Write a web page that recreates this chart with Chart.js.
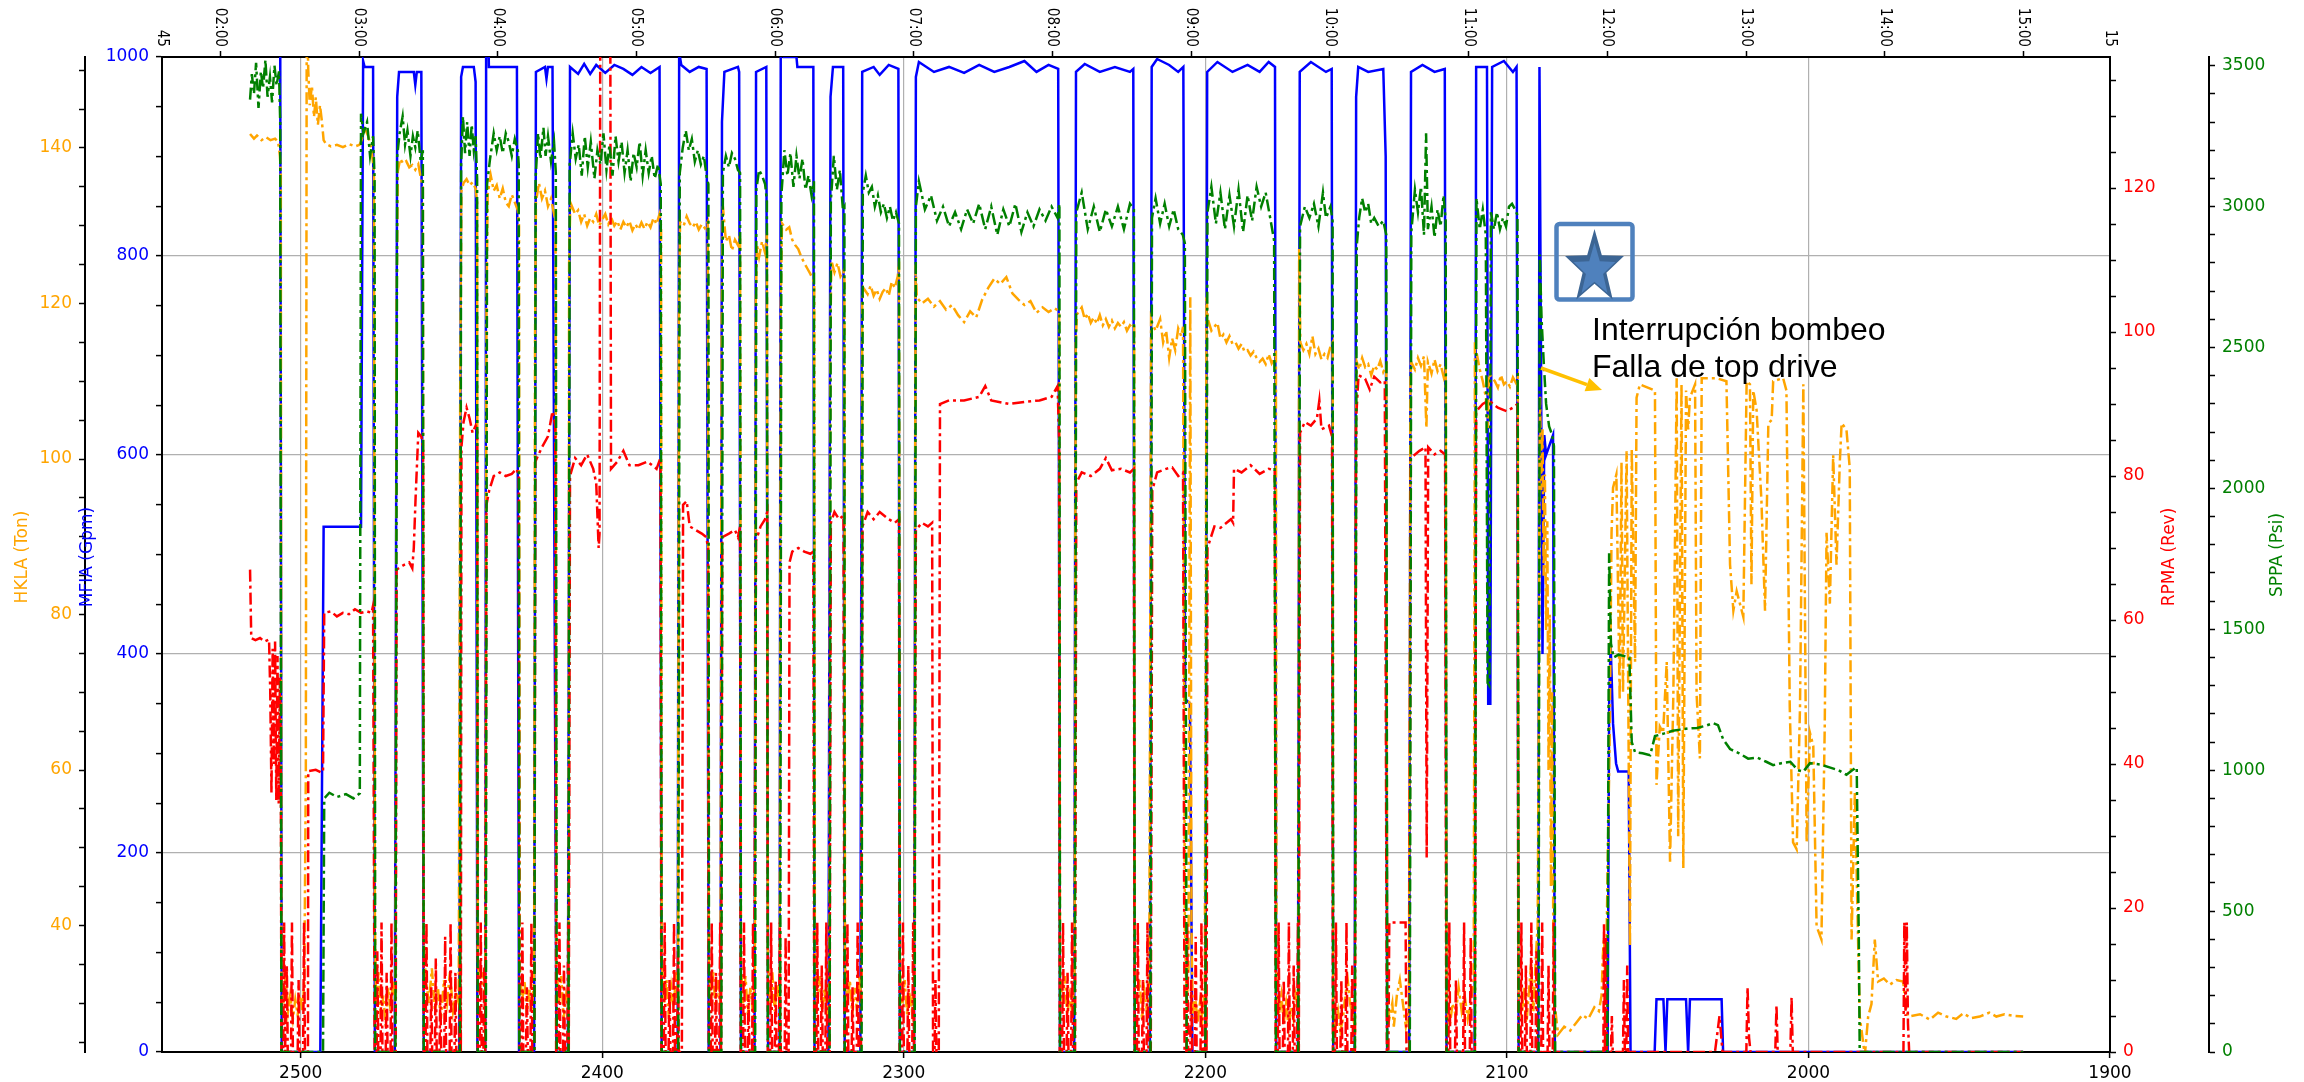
<!DOCTYPE html>
<html>
<head>
<meta charset="utf-8">
<script src="https://cdn.jsdelivr.net/npm/chart.js@4.4.1/dist/chart.umd.min.js"></script>
<style>
  html, body { margin: 0; padding: 0; background: #fff; }
  canvas { display: block; }
</style>
</head>
<body>
<canvas id="drillChart" width="2304" height="1082"></canvas>
<script>
// axis ranges and tick labels
const depthMin = 1900, depthMax = 2546;
const timeMin = 1.579, timeMax = 15.624;
const timeTickHours = [2, 3, 4, 5, 6, 7, 8, 9, 10, 11, 12, 13, 14, 15];
const timeTickLabels = ['02:00', '03:00', '04:00', '05:00', '06:00', '07:00', '08:00',
                        '09:00', '10:00', '11:00', '12:00', '13:00', '14:00', '15:00'];
const timeEdgeLabels = ['45', '15'];

// MFIA (Gpm) : [depth, value]
const mfia = [
  [2516.8,1040],[2506.8,1040],[2506.3,0],
  [2493.5,0],[2492.4,528],[2480.0,528],[2479.3,996],[2478.8,990],[2476.0,990],[2475.4,0],
  [2468.8,0],[2468.0,960],[2467.4,985],[2462.5,985],[2462.0,972],[2461.5,985],[2460.0,985],[2459.2,0],
  [2447.4,0],[2446.8,980],[2446.2,990],[2442.6,990],[2442.0,975],[2441.4,0],
  [2438.8,0],[2438.5,1050],[2437.9,1050],[2437.6,990],[2428.3,990],[2427.6,0],
  [2422.6,0],[2422.0,985],[2419.0,990],[2418.5,978],[2418.0,990],[2416.5,990],[2415.2,0],
  [2411.4,0],[2410.7,990],[2408,983],[2406,993],[2404,983],[2402,992],[2399,984],[2396,992],[2393,988],
  [2390,982],[2387,990],[2384,984],[2381,990],[2380.3,0],
  [2375.0,0],[2374.5,1005],[2373.8,992],[2371,985],[2368,990],[2365.4,988],[2364.7,0],
  [2360.8,0],[2360.3,935],[2359.5,985],[2355,990],[2354.6,985],[2354.0,0],
  [2349.5,0],[2349.0,985],[2345.6,990],[2345.0,0],
  [2341.2,0],[2340.8,1050],[2340.2,1050],[2339.8,1000],[2335.6,1000],[2335.3,990],[2330.0,990],[2329.6,0],
  [2325.0,0],[2324.3,960],[2323.5,990],[2320.1,990],[2319.6,0],
  [2314.4,0],[2313.8,985],[2310,990],[2308,982],[2305,992],[2301.8,988],[2301.3,0],
  [2296.6,0],[2296.0,980],[2295,995],[2290,985],[2285,990],[2280,984],[2275,992],[2270,985],[2265,990],
  [2260,996],[2256,985],[2252,992],[2248.8,988],[2248.2,0],
  [2243.5,0],[2242.9,985],[2240,993],[2235,985],[2230,990],[2225,985],[2223.9,988],[2223.4,0],
  [2218.4,0],[2217.8,990],[2216,998],[2212,992],[2209,985],[2207.3,990],[2206.7,355],[2205.1,350],[2204.3,0],
  [2200.0,0],[2199.4,985],[2196,995],[2191,985],[2186,992],[2182,985],[2179,995],[2176.9,990],[2176.5,0],
  [2169.3,0],[2168.7,985],[2165,995],[2160,985],[2158.1,988],[2157.6,0],
  [2150.5,0],[2150.0,960],[2149.3,990],[2146,985],[2141,988],[2140.2,900],[2139.7,0],
  [2132.4,0],[2131.8,985],[2128,992],[2124,985],[2120.6,988],[2120.0,0],
  [2110.7,0],[2110.2,990],[2106.6,990],[2106.2,350],[2105.5,350],[2104.9,990],[2101,996],[2098,985],[2096.8,990],[2096.1,0],
  [2089.6,0],[2089.2,990],[2088.7,700],[2088.2,400],[2087.6,620],[2087.0,600],[2084.7,620],[2084.1,0],
  [2066.6,0],[2066.1,350],[2065.6,410],[2064.8,330],[2063.8,290],[2063.1,282],[2059.6,282],[2059.0,0],
  [2051.0,0],[2050.4,53],[2048.1,53],[2047.4,0],[2046.8,53],[2040.6,53],[2039.9,0],[2039.3,53],
  [2028.8,53],[2028.3,0],[1928.8,0]
];

// SPPA (Psi)
const sppa = [
  [2516.8,3380],[2516.2,3470],[2515.5,3400],[2514.8,3510],[2514.0,3350],[2513.2,3480],[2512.5,3420],
  [2511.7,3520],[2511.0,3390],[2510.2,3460],[2509.5,3370],[2508.7,3500],[2508.0,3430],[2507.2,3480],
  [2506.8,3300],[2506.4,0],
  [2492.6,0],[2492.2,900],[2490.5,920],[2488,905],[2485,915],[2482.5,900],[2480.4,918],[2480.0,3330],
  [2479.2,3260],[2478,3300],[2477,3180],[2476,3250],[2475.5,3100],[2475.3,0],
  [2468.6,0],[2468.0,3180],[2467.2,3260],[2466.2,3320],[2465.4,3220],[2464.6,3270],[2463.6,3180],
  [2462.8,3250],[2462,3210],[2461.2,3270],[2460.2,3160],[2459.5,3200],[2459.2,0],
  [2447.2,0],[2446.8,3150],[2446.2,3320],[2445.5,3190],[2444.8,3300],[2444,3180],[2443.3,3290],
  [2442.6,3200],[2442,3250],[2441.5,3100],[2441.3,0],
  [2438.6,0],[2438.2,3080],[2437.2,3170],[2436,3260],[2435,3200],[2434,3250],[2433,3190],[2432,3260],
  [2431,3230],[2430,3180],[2429,3240],[2428,3200],[2427.7,3150],[2427.5,0],
  [2422.5,0],[2422.1,3100],[2421.3,3260],[2420.5,3170],[2419.5,3280],[2418.8,3180],[2418,3250],
  [2417,3160],[2416,3230],[2415.4,3120],[2415.1,0],
  [2411.2,0],[2410.8,3150],[2409.8,3260],[2408.8,3170],[2407.8,3220],[2406.8,3110],[2405.8,3250],
  [2404.8,3140],[2403.8,3230],[2402.6,3100],[2401.6,3200],[2400.6,3150],[2399.6,3260],[2398.6,3130],
  [2397.6,3220],[2396.6,3110],[2395.6,3250],[2394.6,3160],[2393.6,3230],[2392.6,3120],[2391.6,3200],
  [2390.6,3090],[2389.6,3190],[2388.6,3140],[2387.6,3230],[2386.6,3110],[2385.6,3200],[2384.6,3120],
  [2383.6,3180],[2382.6,3100],[2381.5,3150],[2380.6,3080],[2380.3,0],
  [2374.8,0],[2374.3,3120],[2373.3,3210],[2372.3,3270],[2371.3,3200],[2370.3,3240],[2369.3,3160],
  [2368.3,3200],[2367.3,3150],[2366.3,3180],[2365.3,3100],[2364.8,3080],[2364.6,0],
  [2360.5,0],[2360,3120],[2359,3180],[2358,3140],[2357,3190],[2356,3170],[2355,3130],[2354.3,3120],[2354,0],
  [2349.3,0],[2348.9,3060],[2348,3130],[2347,3110],[2346,3080],[2345.4,3020],[2345.1,0],
  [2341,0],[2340.6,3040],[2339.6,3200],[2338.6,3110],[2337.6,3190],[2336.6,3070],[2335.6,3180],
  [2334.6,3100],[2333.6,3170],[2332.6,3060],[2331.6,3110],[2330.6,3040],[2329.8,3090],[2329.6,0],
  [2324.6,0],[2324.2,3020],[2323.2,3180],[2322.2,3060],[2321.2,3130],[2320.2,2990],[2319.7,3000],[2319.6,0],
  [2314,0],[2313.6,3050],[2312.6,3110],[2311.6,3050],[2310.6,3070],[2309.6,3000],[2308.6,3040],
  [2307.6,2980],[2306.6,3010],[2305.6,2960],[2304.6,3000],[2303.6,2950],[2302.6,2980],[2301.6,2940],[2301.3,0],
  [2296.4,0],[2296,3000],[2295,3090],[2293,2990],[2291,3040],[2289,2950],[2287,3000],[2285,2930],
  [2283,2980],[2281,2920],[2279,2990],[2277,2940],[2275,3010],[2273,2920],[2271,3000],[2269,2900],
  [2267,2990],[2265,2930],[2263,3010],[2261,2910],[2259,2980],[2257,2930],[2255,2990],[2253,2950],
  [2251,3000],[2249,2960],[2248.4,3010],[2248.2,0],
  [2243.3,0],[2242.8,2980],[2241,3050],[2239,2920],[2237,3000],[2235,2910],[2233,2990],[2231,2930],
  [2229,3000],[2227,2920],[2225,3010],[2223.7,2990],[2223.4,0],
  [2218.2,0],[2217.7,2960],[2216.5,3030],[2215,2940],[2213.5,3010],[2212,2930],[2210.5,2990],
  [2209,2920],[2207.5,2900],[2206.8,2870],[2206.2,0],
  [2200,0],[2199.3,2980],[2198,3070],[2196.5,2940],[2195,3050],[2193.5,2920],[2192,3040],[2190.5,2930],
  [2189,3060],[2187.5,2910],[2186,3040],[2184.5,2950],[2183,3070],[2181.5,3000],[2180,3050],
  [2178.5,2960],[2177.2,2880],[2176.6,0],
  [2169.2,0],[2168.6,2930],[2167,3000],[2165.5,2960],[2164,3010],[2162.5,2930],[2161,3050],[2160,2960],
  [2158.5,3000],[2157.8,2950],[2157.6,0],
  [2150.4,0],[2149.8,2860],[2149,2960],[2148,3030],[2147,2980],[2146,3010],[2145,2940],[2144,2960],
  [2142.5,2930],[2141,2950],[2140,2900],[2139.7,0],
  [2132.2,0],[2131.7,2910],[2130.5,3060],[2129.5,2980],[2128.5,3070],[2127.5,2900],[2126.8,3260],
  [2126.2,2920],[2125,3000],[2124,2890],[2123,2990],[2122,2930],[2121,3040],[2120.3,2950],[2120,0],
  [2110.6,0],[2110.1,3030],[2109,2920],[2108,2990],[2107,2900],[2106.4,1310],[2105.8,1300],[2105.3,2980],
  [2104.3,2920],[2103.3,2980],[2102.3,2920],[2101.3,2960],[2100.3,2930],[2099.3,3000],[2098.3,3010],
  [2097.3,2990],[2096.5,2970],[2096.1,0],
  [2089.5,0],[2089.1,2830],[2088.5,2600],[2087.8,2450],[2087,2300],[2086,2220],[2085,2190],[2084.4,2150],[2084,0],
  [2066.7,0],[2066.1,1770],[2065.5,1450],[2064.6,1400],[2063,1410],[2061,1405],[2059.4,1400],[2058.6,1100],
  [2057.5,1064],[2055,1060],[2052.5,1053],[2050.9,1121],[2048,1130],[2045,1140],[2042.6,1144],[2040,1148],
  [2037,1150],[2034,1158],[2031.6,1167],[2030,1160],[2028.3,1110],[2026,1075],[2023,1060],[2020,1041],
  [2017,1045],[2014,1030],[2011.7,1018],[2009,1025],[2006,1030],[2003.5,1000],[2001.7,995],[1999.5,1025],
  [1996,1020],[1993,1010],[1990,1000],[1987.4,984],[1985.5,1000],[1984,1010],[1983.3,400],[1983.0,0],[1928.8,0]
];

// HKLA (Ton)
const hkla = [
  [2516.8,141.8],[2515.5,141.2],[2514.5,141.6],[2513,141.0],[2511.5,141.4],[2510,141.0],[2508.5,141.2],
  [2507.5,140.8],[2506.9,139],[2506.6,137],[2506.4,33],[2505.8,30],[2505,33.5],[2504.2,29],[2503.5,31],
  [2502.6,28],[2501.8,30.5],[2501,28.5],[2500.2,31],[2499.4,29],[2498.8,33],[2498.3,60],[2498.0,160],
  [2497.5,150],[2497,145.5],[2496.3,148],[2495.6,144],[2495,146.5],[2494.3,143],[2493.6,145.5],[2493,143.5],
  [2492.4,141],[2491.6,140.5],[2490,140.2],[2488,140.4],[2486,140.1],[2484,140.5],[2482,140.2],[2480.5,140.4],
  [2479.8,141],[2478.8,142.6],[2477.6,141.5],[2476.6,140],[2475.7,137],[2475.4,40],
  [2475,30],[2474.2,34],[2473.4,28],[2472.6,31],[2471.8,27],[2471,32],[2470.2,29],[2469.4,33],[2468.6,30],
  [2468.2,120],[2467.8,137],[2467,138.6],[2466,138],[2465,138.3],[2464,137.5],[2463,137.8],[2462,137.2],
  [2461,137.9],[2460,135.8],[2459.5,135],[2459.2,38],
  [2458.5,33],[2457.5,30],[2456.5,34.5],[2455.5,29],[2454.5,32],[2453.5,28],[2452.5,33],[2451.5,30],
  [2450.5,34],[2449.5,29],[2448.5,31.5],[2447.6,30],[2447.1,110],[2446.7,134.5],[2446,135.5],[2445,136],
  [2444,135.2],[2443,135.6],[2442,134.8],[2441.5,133],[2441.3,36],[2440.5,31],[2439.6,34],[2438.8,29],
  [2438.4,120],[2438,134],[2437,136.5],[2436,134.5],[2435,135.2],[2434,133.5],[2433,134.8],[2432,133],
  [2431,132.5],[2430,134],[2429,133],[2428,132],[2427.6,130],[2427.4,35],
  [2426.6,30],[2425.8,33],[2425,28.5],[2424.2,32],[2423.4,29],[2422.6,33],[2422.3,115],[2422,133],
  [2421,135.5],[2420,133.5],[2419,134.5],[2418,132.5],[2417,133.5],[2416,131.5],[2415.5,132],[2415.2,35],
  [2414.4,30],[2413.6,33.5],[2412.8,28],[2412,31],[2411.2,29],[2411,125],[2410.6,133],[2409,131.5],
  [2408,132],[2407,130.5],[2406,131.5],[2405,130],[2404,131],[2403,130.5],[2402,131.5],[2401,130],
  [2400,130.8],[2399,131.5],[2398,130.2],[2397,131],[2396,130],[2395,130.6],[2394,129.5],[2393,130.5],
  [2392,129.8],[2391,130.6],[2390,129.4],[2389,130.2],[2388,129.5],[2387,130.4],[2386,129.6],[2385,130.5],
  [2384,129.8],[2383,131],[2382,130.2],[2381,131.5],[2380.5,130],[2380.3,36],
  [2379.5,30],[2378.7,33],[2377.9,28],[2377.1,32],[2376.3,29.5],[2375.5,34],[2374.9,30],[2374.6,118],
  [2374.2,130.5],[2373,130],[2372,131.2],[2371,130.3],[2370,129.8],[2369,130.5],[2368,129.5],[2367,130.2],
  [2366,129.7],[2365,130.5],[2364.7,36],[2364,30],[2363.2,34],[2362.4,29],[2361.6,33],[2360.8,30],
  [2360.4,118],[2360,132.5],[2359,128],[2358,128.8],[2357,126.8],[2356,128.2],[2355,127.5],[2354.3,128.8],
  [2354,35],[2353.3,30],[2352.5,33.5],[2351.7,28.5],[2350.9,32],[2350.1,29],[2349.4,33],[2349.1,120],
  [2348.7,127.5],[2348,126],[2347,128],[2346,126.5],[2345.4,129],[2345.1,36],[2344.4,30],[2343.6,34],
  [2342.8,29],[2342,32.5],[2341.2,30],[2340.8,120],[2340.4,130.3],[2339,129.5],[2338,129.8],[2337,128.2],
  [2336,127.5],[2335,127],[2334,126],[2333,125.2],[2332,124.5],[2331,123.8],[2330,123],[2329.7,122.5],
  [2329.5,36],[2328.7,30],[2327.9,33.5],[2327.1,29],[2326.3,32],[2325.5,28.5],[2324.7,33],[2324.4,115],
  [2324,125.5],[2323,124],[2322,125.2],[2321,123.5],[2320,124.2],[2319.7,123],[2319.5,35],[2318.7,30],
  [2317.9,33],[2317.1,28.5],[2316.3,32],[2315.5,29],[2314.7,33.5],[2314,30],[2313.8,120],[2313.4,122],
  [2312,121.2],[2311,122.3],[2310,121],[2309,121.8],[2308,120.6],[2307,121.5],[2306,122],[2305,121],
  [2304,122.8],[2303,122],[2302,123.5],[2301.6,125.4],[2301.3,34],[2300.5,30],[2299.7,33],[2298.9,28.5],
  [2298.1,31.5],[2297.3,29],[2296.5,33],[2296.1,125],[2295.7,120.8],[2294,120],[2292,120.6],[2290,119.6],
  [2288,120.3],[2286,119.2],[2284,119.8],[2282,118.5],[2280,117.6],[2278,119],[2276,118.2],[2274,120.5],
  [2272,122],[2270,123.2],[2268,122.5],[2266,123.4],[2264,121.3],[2262,120.5],[2260,119.8],[2258,120.3],
  [2256,118.8],[2254,119.5],[2252,118.9],[2250,119.4],[2248.5,119],[2248.2,34],[2247.4,30],[2246.6,33.5],
  [2245.8,28.5],[2245,31],[2244.2,29],[2243.4,33],[2243,115],[2242.6,118.6],[2241,119.5],[2240,118],
  [2239,118.7],[2238,117.5],[2237,118.2],[2236,117.4],[2235,118.5],[2234,117.2],[2233,118],[2232,117],
  [2231,117.8],[2230,116.8],[2229,117.5],[2228,117],[2227,117.6],[2226,116.5],[2225,117.2],[2224,116.8],
  [2223.6,117.5],[2223.4,34],[2222.6,30],[2221.8,33],[2221,28],[2220.2,31.5],[2219.4,29],[2218.6,33],
  [2218,118],[2217.6,117.5],[2216.5,116.5],[2215,118],[2214,115],[2213,116.5],[2212,113],[2211,115.5],
  [2210,114],[2209,116.8],[2208,115.8],[2207.4,117],[2206.8,40],[2206.2,30],[2205.6,34],[2205,120.8],
  [2204.6,40],[2204.2,28],[2203.4,31],[2202.6,27.5],[2201.8,30],[2201,28],[2200.2,32],[2199.6,121],
  [2199.2,118],[2198,116.5],[2197,117],[2196,117.5],[2195,115.5],[2194,116],[2193,115],[2192,115.8],
  [2191,114.8],[2190,115],[2189,114.2],[2188,114.8],[2187,113.8],[2186,114],[2185,113.3],[2184,113.8],
  [2183,113],[2182,112.5],[2181,112.9],[2180,112.2],[2179,113.5],[2178,112.3],[2177,113],[2176.6,114],
  [2176.4,32],[2175.6,28.5],[2174.8,31],[2174,27.5],[2173.2,30],[2172.4,27],[2171.6,29.5],[2170.8,28],
  [2170,31],[2169.2,29],[2168.9,127],[2168.5,115],[2167.5,114],[2166.5,114.8],[2165.5,113.5],[2164.5,115.8],
  [2163.5,113.5],[2162.5,114.2],[2161.5,112.8],[2160.5,113.5],[2159.5,113],[2158.5,114.5],[2157.8,115],
  [2157.6,30],[2156.8,27],[2156,29],[2155.2,26.5],[2154.4,28],[2153.6,31],[2152.8,33],[2152,30],
  [2151.2,28.5],[2150.4,27],[2150.1,105],[2149.8,112.5],[2149,111.5],[2148,113],[2147,111.8],[2146,112.2],
  [2145,110.8],[2144,112],[2143,111.5],[2142,112.6],[2141,111.2],[2140,112],[2139.7,31],
  [2139,28],[2138,30],[2137.5,27],[2136.5,31],[2135.5,33],[2134.5,30],[2133.5,27],[2132.5,29],[2132,110],
  [2131.8,112.5],[2130.5,111.5],[2129.5,113],[2128.5,112],[2127.5,113.2],[2126.7,104],[2126.2,112.5],
  [2125,111],[2124,112.8],[2123,111.3],[2122,112.2],[2121,110.6],[2120.3,112],[2120,30],
  [2119,27],[2118,30],[2117,28.5],[2116,32],[2115,29],[2114,31],[2113,28],[2112,30],[2111,33],[2110.6,115],
  [2110.2,114],[2109,111.5],[2108,110],[2107,108],[2106.3,104],[2106,111],[2105,110.5],[2104,110],
  [2103,109.2],[2102,110.8],[2101,109.6],[2100,110],[2099,109.3],[2098,110.5],[2097,109.8],[2096.4,110.5],
  [2096.1,31],[2095.2,28],[2094.4,32],[2093.6,27],[2092.8,31],[2092,35],[2091.2,29],[2090.4,36],
  [2089.8,40],[2089.4,70],[2089.2,100],[2089,108],[2088.6,96],[2088.2,104],[2087.8,85],[2087.4,98],
  [2087,78],[2086.6,92],[2086.2,60],[2085.8,80],[2085.4,45],[2085,70],[2084.6,38],[2084.2,30],
  [2083,26],[2081,27],[2079,26.5],[2077,27.5],[2075,28.5],[2073,28],[2071,29.5],[2069.5,29],[2068.6,31],
  [2068.2,36],[2067.8,38.5],[2067.4,33],[2067,37],[2065.9,64.8],[2065.3,90.5],[2064.8,96.3],[2063.7,98],
  [2062.6,69],[2062,99.6],[2061.5,70],[2060.3,101],[2059.2,37.4],[2058.6,101.3],[2057.5,73.9],[2057.0,107.9],
  [2055.9,109.6],[2050.9,108.8],[2050.4,58.1],[2049.3,65.6],[2048.2,64.8],[2047.0,73.9],[2045.9,48.2],
  [2044.8,69.8],[2043.7,110.4],[2043.2,51.5],[2042.1,109.6],[2041.5,47.4],[2040.6,108.8],[2039.9,103.8],
  [2039.3,107.9],[2037.6,109.6],[2037.1,69.8],[2036.0,61.5],[2035.4,110.4],[2030.5,110.4],[2027.2,110.0],
  [2026.0,86.4],[2024.9,80.5],[2023.8,83.0],[2021.6,79.7],[2020.5,110.0],[2019.4,109.6],[2018.9,83.9],
  [2018.3,108.8],[2017.2,106.3],[2015.6,94.7],[2014.4,80.5],[2013.3,104.6],[2012.2,105.0],[2011.7,110.0],
  [2008.4,110.4],[2007.3,108.8],[2006.2,68.1],[2005.1,50.7],[2003.9,49.8],[2002.8,68.1],[2001.7,109.6],
  [2000.6,50.7],[1999.5,64.8],[1998.4,63.1],[1997.3,39.9],[1995.7,38.2],[1994.6,65.6],[1994.0,90.5],
  [1992.9,81.4],[1991.8,100.5],[1990.7,86.4],[1989.6,99.6],[1989.0,104.6],[1987.4,103.8],[1986.3,98.8],
  [1985.7,38.2],[1984.6,57.3],[1983.0,28.3],[1981.3,23.3],[1980.2,28.3],[1979.1,29.9],[1978.0,38.2],
  [1976.9,32.8],[1975,33.2],[1973.0,32.4],[1970.8,33],[1968.6,32.8],[1967.5,29.1],[1966.9,28.3],
  [1963,28.6],[1959.7,27.9],[1957,28.8],[1954.2,28.3],[1951,28],[1948.7,28.7],[1946,28.1],[1943.2,28.3],
  [1940,28.8],[1937.7,28.3],[1935,28.6],[1932.1,28.4],[1928.8,28.3]
];

// RPMA (Rev)
const rpma = [
  [2516.8,67],[2516.4,57.5],[2515,57.2],[2513.5,57.5],[2512,57],[2510.5,57.3],[2510.1,50],[2509.7,36],
  [2509.3,56],[2508.9,40],[2508.5,57],[2508.1,35],[2507.7,55],[2507.3,34.5],[2506.9,52],[2506.6,40],[2506.4,0],
  [2505.8,0],[2505.5,18],[2505.2,0],[2504.6,12],[2504.3,0],[2503.2,0],[2502.9,18],[2502.6,0],[2501,0],
  [2500.7,10],[2500.4,0],[2499.2,0],[2498.9,18],[2498.6,0],[2497.6,0],
  [2497.5,39],[2495,39.2],[2493,38.8],[2492.6,39],[2492.2,61],[2490,61.2],[2488,60.5],[2486,61],[2484,60.8],
  [2482,61.5],[2480,61],[2478,61.2],[2476.5,61],[2476,62],[2475.5,0],
  [2474.8,0],[2474.6,14],[2474.3,0],[2473.5,0],[2473.2,18],[2472.9,0],[2471.8,0],[2471.5,11],[2471.2,0],
  [2470.2,0],[2469.9,18],[2469.6,0],[2468.5,0],
  [2468.2,67],[2466,67.6],[2464,68],[2463,67.2],[2462.5,70],[2461.9,77],[2461,86],[2460,85.5],[2459.4,84],[2459.2,0],
  [2458.6,0],[2458.3,18],[2458,0],[2457,0],[2456.7,9],[2456.4,0],[2455.5,0],[2455.2,13],[2454.9,0],[2454,0],
  [2453.7,8],[2453.4,0],[2452.4,0],[2452.1,16],[2451.8,0],[2450.6,0],[2450.3,18],[2450,0],[2449,0],
  [2448.7,11],[2448.4,0],[2447.4,0],[2447.1,18],[2446.9,0],
  [2446.7,84],[2446,87.5],[2445,89.5],[2444,88],[2443,86],[2442,87],[2441.5,86.5],[2441.3,0],
  [2440.6,0],[2440.3,18],[2440,0],[2439.4,0],[2439.1,12],[2438.8,0],
  [2438.4,76],[2437.5,78],[2436,80],[2434,80.5],[2432,80],[2430,80.3],[2428.4,81],[2427.7,80],[2427.5,0],
  [2426.8,0],[2426.5,18],[2426.2,0],[2425.3,0],[2425,9],[2424.7,0],[2423.8,0],[2423.5,18],[2423.2,0],[2422.5,0],
  [2422.2,82],[2420,84],[2418,85.5],[2416.5,89],[2415.6,87],[2415.3,0],
  [2414.5,0],[2414.2,18],[2413.9,0],[2413,0],[2412.7,12],[2412.4,0],[2411.6,0],[2411.3,18],[2411.1,0],
  [2410.7,80],[2409,82.5],[2407,81.5],[2405,83],[2403,81],[2402,79],[2401.2,70],[2400.9,72],[2400.6,160],
  [2397.4,160],[2397.1,81],[2395,82],[2393,83.5],[2391,81.5],[2388,81.5],[2385,82],[2382,81],[2380.7,82.5],[2380.4,0],
  [2379.6,0],[2379.3,18],[2379,0],[2378,0],[2377.7,10],[2377.4,0],[2376.5,0],[2376.2,18],[2375.9,0],
  [2375.2,0],[2374.9,14],[2374.6,0],[2373.6,0],
  [2373.2,76],[2372,76.5],[2371,73],[2369,72.5],[2367,72],[2365.5,71.5],[2364.9,70],[2364.7,0],
  [2364,0],[2363.7,18],[2363.4,0],[2362.6,0],[2362.3,11],[2362,0],[2361.2,0],[2360.9,18],[2360.6,0],
  [2360.2,71.5],[2358,72],[2356,72.5],[2355,71.5],[2354.3,73],[2354.1,0],
  [2353.3,0],[2353,18],[2352.7,0],[2351.8,0],[2351.5,8],[2351.2,0],[2350.3,0],[2350,18],[2349.7,0],
  [2349,71],[2347.5,73],[2346,74],[2345.3,75],[2345.1,0],
  [2344.3,0],[2344,18],[2343.7,0],[2342.8,0],[2342.5,10],[2342.2,0],[2341.4,0],[2341.1,18],[2340.8,0],
  [2339.5,0],[2339.2,16],[2338.9,0],[2338.2,0],
  [2337.9,68],[2337,69.5],[2335,70],[2333,69.5],[2331,69.2],[2330,69.5],[2329.7,0],
  [2329,0],[2328.7,18],[2328.4,0],[2327.5,0],[2327.2,12],[2326.9,0],[2326,0],[2325.7,18],[2325.4,0],[2324.6,0],
  [2324.2,73.5],[2323,75],[2321.5,74],[2320,74.5],[2319.7,0],
  [2319,0],[2318.7,18],[2318.4,0],[2317.3,0],[2317,9],[2316.7,0],[2315.6,0],[2315.3,18],[2315,0],[2314.2,0],
  [2313.7,73],[2312,75],[2310,74],[2308,75],[2305,74],[2303,73.5],[2301.6,74],[2301.4,0],
  [2300.6,0],[2300.3,18],[2300,0],[2298.8,0],[2298.5,12],[2298.2,0],[2297.2,0],[2296.9,18],[2296.6,0],
  [2296,72.5],[2294,73.5],[2292,73],[2290.6,73.5],[2290.3,0],[2289.8,0],[2289.5,10],[2289.2,0],[2288.4,0],
  [2288,90],[2285,90.5],[2280,90.5],[2275,91],[2273,92.5],[2271,90.5],[2265,90],[2260,90.3],[2255,90.5],
  [2251,91],[2249,92.5],[2248.5,85],[2248.3,0],
  [2247.5,0],[2247.2,18],[2246.9,0],[2246,0],[2245.7,11],[2245.4,0],[2244.5,0],[2244.2,18],[2243.9,0],[2243.2,0],
  [2242.8,79],[2241,80.5],[2238,80],[2235,81],[2233,82.5],[2231,80.8],[2228,81],[2225,80.5],[2223.7,81],[2223.5,0],
  [2222.7,0],[2222.4,18],[2222.1,0],[2221,0],[2220.7,10],[2220.4,0],[2219.5,0],[2219.2,18],[2218.9,0],[2218.1,0],
  [2217.6,78],[2216,80.5],[2213,81],[2211,81.2],[2209,80],[2207.4,80.5],[2206.9,0],
  [2206.3,0],[2206,18],[2205.7,0],[2205,0],[2204.7,10],[2204.4,0],[2203.5,0],[2203.2,16],[2202.9,0],
  [2201.6,0],[2201.3,18],[2201,0],[2200.2,0],[2199.9,18],[2199.6,0],
  [2199.3,70],[2197,73],[2195,72.8],[2191.5,74],[2190.8,73.5],[2190.5,81],[2188,80.5],[2185,81.5],[2182,80.3],
  [2179,81],[2177,80.8],[2176.7,0],
  [2176,0],[2175.7,18],[2175.4,0],[2174.3,0],[2174,10],[2173.7,0],[2172.6,0],[2172.3,18],[2172,0],[2171,0],
  [2170.7,12],[2170.4,0],[2169.6,0],[2169.3,18],[2169,0],
  [2168.6,86],[2167,87.5],[2165,87],[2163,88],[2162.2,90.5],[2161.5,86.5],[2159,87],[2158,85.5],[2157.7,0],
  [2157,0],[2156.7,18],[2156.4,0],[2155.2,0],[2154.9,10],[2154.6,0],[2153.5,0],[2153.2,18],[2152.9,0],
  [2151.6,0],[2151.3,12],[2151,0],[2150.4,0],
  [2150,88],[2149.2,94],[2147,93.5],[2145.5,92],[2144,93.8],[2142,93],[2140.5,93.2],[2139.8,0],
  [2139.3,0],[2139,18],[2136,18],[2133.6,18],[2133.3,0],[2132.4,0],
  [2131.9,82.5],[2129,83.5],[2127,84],[2126.6,27],[2126.1,84],[2124,83],[2122,83.5],[2120.5,83],[2120.1,0],
  [2119.4,0],[2119.1,18],[2118.8,0],[2117.2,0],[2116.9,10],[2116.6,0],[2114.5,0],[2114.2,18],[2113.9,0],
  [2112.3,0],[2112,16],[2111.7,0],[2110.6,0],
  [2110.2,89],[2108,90],[2106,90.5],[2103,89.5],[2100,89],[2098,89.5],[2096.5,90],[2096.2,0],
  [2095.5,0],[2095.2,18],[2094.9,0],[2094,0],[2093.7,12],[2093.4,0],[2092.2,0],[2091.9,18],[2091.6,0],
  [2090.5,0],[2090.2,14],[2089.9,0],[2088.6,0],[2088.3,18],[2088,0],[2086.5,0],[2086.2,12],[2085.9,0],
  [2084.8,0],[2084.5,18],[2084.2,0],
  [2068,0],[2067.8,18],[2067.5,0],[2067.2,16],[2066.9,0],[2065.5,0],[2065.2,5],[2064.9,0],[2061.5,0],
  [2061.2,10],[2060.9,0],[2060.4,0],[2060.1,12],[2059.8,0],
  [2031,0],[2029.5,5],[2028.5,0],[2020.6,0],[2020.2,9],[2019.7,2],[2019.2,0],[2011,0],[2010.6,6.5],[2010.2,0],
  [2006,0],[2005.6,7.6],[2005.2,0],[1968.5,0],[1968.2,18],[1967.8,5],[1967.4,18],[1967.0,4],[1966.6,0],[1928.8,0]
];

const toXY = pts => pts.map(p => ({ x: p[0], y: p[1] }));
const dashDot = [12, 4, 3, 4];

Chart.defaults.font.family = "'DejaVu Sans', sans-serif";
Chart.defaults.font.size = 17;

const sideTick = (pos, weight, min, max, step, major, color, width) => ({
  type: 'linear', position: pos, weight: weight, min: min, max: max,
  ticks: {
    stepSize: step, includeBounds: false, autoSkip: false, color: color, padding: 7,
    callback: v => (Math.abs(v % major) < 1e-6 ? String(v) : '')
  },
  grid: { drawOnChartArea: false, tickColor: '#000', tickLength: 6, tickWidth: 1.5 },
  border: { color: '#000', width: 2 },
  afterFit: s => { s.width = width; }
});

const scales = {
  x: {
    type: 'linear', position: 'bottom', reverse: true, min: depthMin, max: depthMax,
    ticks: { stepSize: 100, includeBounds: false, autoSkip: false, color: '#000', padding: 5, maxRotation: 0,
             callback: v => String(v) },
    grid: { color: '#b0b0b0', lineWidth: 1.2, tickColor: '#000', tickLength: 6, tickWidth: 1.5 },
    border: { color: '#000', width: 2 },
    afterFit: s => { s.height = 30; }
  },
  x2: {
    type: 'linear', position: 'top', min: timeMin, max: timeMax,
    ticks: { stepSize: 1, includeBounds: false, autoSkip: false, callback: () => '' },
    grid: { drawOnChartArea: false, tickColor: '#000', tickLength: 6, tickWidth: 1.5 },
    border: { color: '#000', width: 2 },
    afterFit: s => { s.height = 57; }
  },
  y: Object.assign(sideTick('left', 0, 0, 1000, 50, 200, 'blue', 77), {
    grid: {
      drawOnChartArea: true, tickLength: 6, tickWidth: 1.5, tickColor: '#000', lineWidth: 1.2,
      color: c => (c.tick && c.tick.value % 200 === 0 && c.tick.value > 0 && c.tick.value < 1000) ? '#b0b0b0' : 'rgba(0,0,0,0)'
    }
  }),
  yHk: sideTick('left', 1, 23.74, 151.7, 5, 20, 'orange', 85),
  yR: sideTick('right', 0, 0, 138.2, 5, 20, 'red', 99),
  yS: sideTick('right', 1, 0, 3531, 100, 500, 'green', 95)
};

function starPath(ctx, cx, cy, rOut, rIn) {
  ctx.beginPath();
  for (let i = 0; i < 10; i++) {
    const r = i % 2 ? rIn : rOut;
    const a = -Math.PI / 2 + i * Math.PI / 5;
    ctx.lineTo(cx + r * Math.cos(a), cy + r * Math.sin(a));
  }
  ctx.closePath();
}

const decorPlugin = {
  id: 'decor',
  afterDraw(chart) {
    const ctx = chart.ctx;
    const x2 = chart.scales.x2;

    // top time labels, rotated
    ctx.save();
    ctx.fillStyle = '#000';
    ctx.font = "16px 'DejaVu Sans'";
    const topLabel = (x, txt) => {
      ctx.save();
      ctx.translate(x, 47);
      ctx.rotate(Math.PI / 2);
      ctx.scale(0.85, 1);
      ctx.textAlign = 'right';
      ctx.textBaseline = 'middle';
      ctx.fillText(txt, 0, 0);
      ctx.restore();
    };
    timeTickHours.forEach((h, i) => topLabel(x2.getPixelForValue(h), timeTickLabels[i]));
    topLabel(x2.getPixelForValue(timeMin), timeEdgeLabels[0]);
    topLabel(x2.getPixelForValue(timeMax), timeEdgeLabels[1]);
    ctx.restore();

    // axis titles
    const vTitle = (txt, x, y, color) => {
      ctx.save();
      ctx.translate(x, y);
      ctx.rotate(-Math.PI / 2);
      ctx.font = "17px 'DejaVu Sans'";
      ctx.fillStyle = color;
      ctx.textAlign = 'center';
      ctx.textBaseline = 'middle';
      ctx.fillText(txt, 0, 0);
      ctx.restore();
    };
    vTitle('HKLA (Ton)', 23, 557, 'orange');
    vTitle('MFIA (Gpm)', 88, 557, 'blue');
    vTitle('RPMA (Rev)', 2170, 557, 'red');
    vTitle('SPPA (Psi)', 2278, 555, 'green');

    // star box annotation
    ctx.save();
    ctx.lineWidth = 4.5;
    ctx.strokeStyle = '#4f81bd';
    ctx.beginPath();
    ctx.roundRect(1556.5, 224, 76, 75.5, 3);
    ctx.stroke();
    ctx.translate(1594.5, 268);
    ctx.scale(1, 1.26);
    starPath(ctx, 0, 0, 31, 12.5);
    ctx.fillStyle = '#3c6594';
    ctx.fill();
    starPath(ctx, 0, 2, 22, 9);
    ctx.fillStyle = '#4f81bd';
    ctx.fill();
    ctx.restore();

    // annotation text
    ctx.save();
    ctx.fillStyle = '#000';
    ctx.font = "32px 'Liberation Sans'";
    ctx.textAlign = 'left';
    ctx.textBaseline = 'alphabetic';
    ctx.fillText('Interrupción bombeo', 1592, 340);
    ctx.fillText('Falla de top drive', 1592, 377);
    ctx.restore();

    // arrow
    ctx.save();
    const x0 = 1541, y0 = 368, x1 = 1602, y1 = 390;
    const len = Math.hypot(x1 - x0, y1 - y0);
    const ux = (x1 - x0) / len, uy = (y1 - y0) / len;
    const bx = x1 - 16 * ux, by = y1 - 16 * uy;
    ctx.strokeStyle = '#ffc000';
    ctx.fillStyle = '#ffc000';
    ctx.lineWidth = 3.5;
    ctx.beginPath();
    ctx.moveTo(x0, y0);
    ctx.lineTo(bx, by);
    ctx.stroke();
    ctx.beginPath();
    ctx.moveTo(x1, y1);
    ctx.lineTo(bx - 7 * uy, by + 7 * ux);
    ctx.lineTo(bx + 7 * uy, by - 7 * ux);
    ctx.closePath();
    ctx.fill();
    ctx.restore();
  }
};

const lineSet = (label, pts, color, axis, dash, order) => ({
  label: label, data: toXY(pts), yAxisID: axis, xAxisID: 'x',
  borderColor: color, backgroundColor: color, borderWidth: 2.5, borderDash: dash,
  pointRadius: 0, fill: false, tension: 0, order: order
});

new Chart(document.getElementById('drillChart').getContext('2d'), {
  type: 'line',
  data: {
    datasets: [
      lineSet('SPPA (Psi)', sppa, '#008000', 'yS', dashDot, 1),
      lineSet('RPMA (Rev)', rpma, '#ff0000', 'yR', dashDot, 2),
      lineSet('HKLA (Ton)', hkla, '#ffa500', 'yHk', dashDot, 3),
      lineSet('MFIA (Gpm)', mfia, '#0000ff', 'y', [], 4)
    ]
  },
  options: {
    responsive: false,
    animation: false,
    devicePixelRatio: 1,
    layout: { padding: 0 },
    plugins: { legend: { display: false }, tooltip: { enabled: false } },
    scales: scales
  },
  plugins: [decorPlugin]
});
</script>
</body>
</html>
